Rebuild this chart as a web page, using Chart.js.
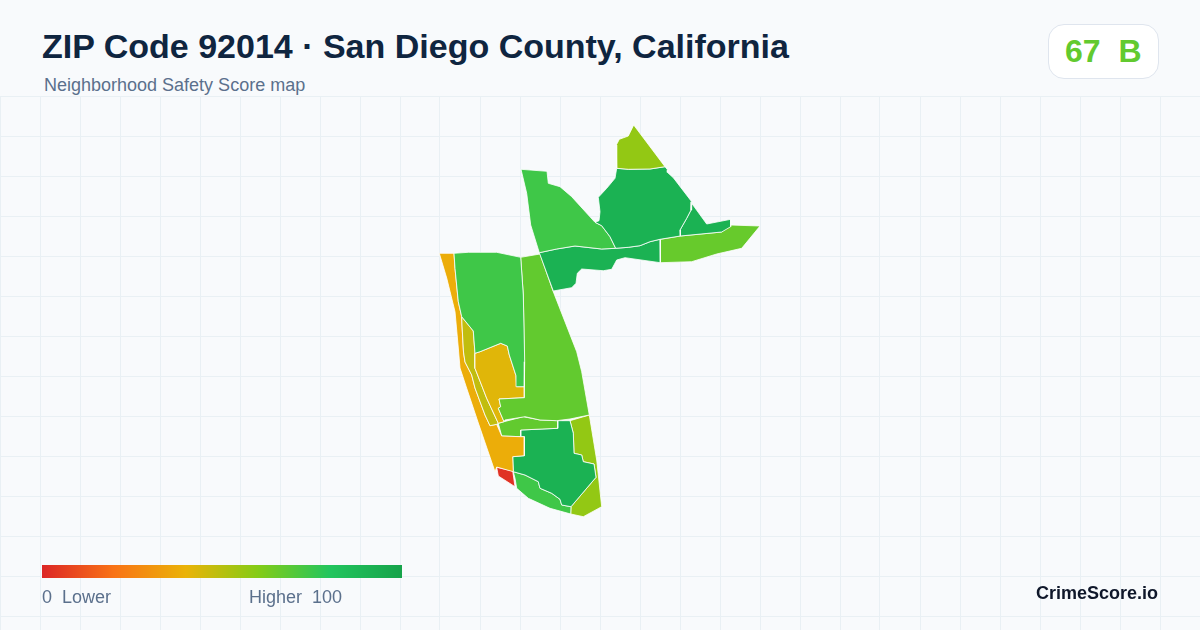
<!DOCTYPE html>
<html><head><meta charset="utf-8">
<script src="https://cdn.jsdelivr.net/npm/chart.js@4"></script>
<style>
html,body{margin:0;padding:0;width:1200px;height:630px;overflow:hidden;background:#f8fafc;font-family:"Liberation Sans",Arial,sans-serif}
.t{position:absolute;white-space:pre;line-height:1}
#wrap{position:absolute;left:0;top:96px;width:1200px;height:534px}
#badge{position:absolute;left:1048px;top:24px;width:109px;height:53px;background:#fff;border:1px solid #dfe5ee;border-radius:16px}
#bar{position:absolute;left:42px;top:565px;width:360px;height:13px}
</style></head><body>
<div id="wrap"><canvas id="c" width="1200" height="534"></canvas></div>
<div class="t" style="left:42px;top:29px;font-size:34px;font-weight:700;color:#0f2540">ZIP Code 92014 · San Diego County, California</div>
<div class="t" style="left:44px;top:76px;font-size:18px;color:#5b708c">Neighborhood Safety Score map</div>
<div id="badge"></div>
<div id="grade" class="t" style="left:1065px;top:35px;font-size:32px;font-weight:700"></div>
<div id="bar"></div>
<div class="t" style="left:42px;top:588px;font-size:18px;color:#5b708c">0  Lower</div>
<div class="t" style="left:249px;top:588px;font-size:18px;color:#5b708c">Higher  100</div>
<div class="t" style="left:1036px;top:584px;font-size:18px;font-weight:700;color:#0f172a">CrimeScore.io</div>
<script>
const overallScore = 67;
const overallGrade = "B";
const rampStops = [0, 20, 40, 60, 80, 100];
const rampColors = ["#dc2626", "#f97316", "#eab308", "#84cc16", "#22c55e", "#16a34a"];
const gridStep = 40;

const tractScores = [57, 91, 91, 74, 91, 66, 74, 67, 42, 48, 38, 67, 91, 74, 57, 3];
const tractA = [[633.7,125],[628.3,136],[619.3,139.3],[616.3,145],[616.7,168.3],[628.3,169.3],[650,169],[665,166.7]];
const tractB = [[665,166.7],[667.7,170],[667.3,172.3],[673.3,177.7],[691.7,201.7],[691,210],[686.7,218.3],[680,230],[680.3,236],[660,239.3],[650,241.7],[640,245.7],[628.3,247.3],[615.7,248.3],[610,236.7],[601.7,225.7],[595,222.3],[599,220.7],[600,211.7],[598.3,197.3],[606.7,188.3],[615,178.3],[616.7,168.3],[628.3,169.3],[650,169]];
const tractC = [[691.7,203.3],[706.7,224],[730.7,219.3],[730.7,226.7],[721.7,232],[680.3,236],[680,230],[686.7,218.3],[691,210]];
const tractD = [[521,169.3],[547,171.3],[548.3,183.3],[560,186.7],[571.7,196.7],[595,222.3],[601.7,225.7],[610,236.7],[615.7,248.3],[601.7,249],[575,246],[556.7,249],[539.3,252.7],[530.7,225],[526.7,193.3]];
const tractE = [[539.3,252.7],[556.7,249],[575,246],[601.7,249],[615.7,248.3],[628.3,247.3],[640,245.7],[650,241.7],[660,239.3],[660.3,262.7],[625,257.7],[616.7,260],[611.7,269.3],[603.3,270.7],[581.7,269],[577.3,273.3],[576,283.3],[571.7,287.7],[553.3,291]];
const tractF = [[660.3,239.3],[680.3,236],[721.7,232],[730.7,225],[760,226],[741.7,248.3],[716.7,254],[691.7,261.7],[660.3,262.7]];
const tractH = [[454,253.3],[468.3,252.3],[496.7,252.3],[520.7,257.3],[523.3,295],[524.7,361.7],[524.3,386.7],[516.7,386.7],[516,375.7],[509.3,355],[507.3,346],[500.7,343.3],[480,351.7],[475,353.3],[473.3,331],[461.7,316.7],[458.3,301.7],[455,268.3]];
const tractI = [[520.7,257.3],[540,254],[553.3,291.7],[576.7,351.7],[581.7,371.7],[589.3,415],[570,419],[556.7,420.7],[540,420],[525,416.7],[505,420],[504,421.7],[498.3,408.3],[500.7,406.7],[499,399],[524.3,397.7],[524.3,386.7],[524.7,361.7],[523.3,295]];
const tractP = [[475,353.3],[480,351.7],[500.7,343.3],[507.3,346],[509.3,355],[516,375.7],[516.7,386.7],[524.3,386.7],[524.3,397.7],[499,399],[500.7,406.7],[498.3,408.3],[504,421.7],[498.3,423.3],[486.7,398.3],[475,368.3]];
const tractQ = [[461.7,316.7],[473.3,331],[475,353.3],[475,368.3],[486.7,398.3],[498.3,423.3],[496.7,424.3],[490,425.7],[485,415],[475,388],[471.7,375],[465,362],[463.5,352],[462,325]];
const tractG = [[439.3,253.3],[454,253.3],[455,268.3],[458.3,301.7],[461.7,316.7],[462,325],[463.5,352],[465,362],[471.7,375],[475,388],[485,415],[490,425.7],[496.7,424.3],[501.7,436],[520.7,436.7],[524.3,436.7],[524.3,455.7],[512.7,456.7],[513.3,471.7],[496.7,467],[495,471.7],[478.3,423],[466.7,388.3],[460,368],[458.3,348],[455,311.7],[446.7,278]];
const tractJ = [[498.3,423.3],[504,421.7],[523.3,416.7],[540,420],[557.7,420.7],[557.7,428.3],[520.7,430],[520.7,436.7],[501.7,436]];
const tractK = [[520.7,430],[557.7,428.3],[557.7,420.7],[570,420.7],[573.3,433.3],[574,453.3],[581.7,455],[583.3,461.7],[594,464],[596,477.3],[571,506.7],[561.7,505],[560,499.3],[551.7,493.3],[540,488.3],[538.3,481.7],[525,475],[513.3,471.7],[512.7,456.7],[524.3,455.7],[524.3,436.7],[520.7,436.7]];
const tractL = [[513.3,471.7],[525,475],[538.3,481.7],[540,488.3],[551.7,493.3],[560,499.3],[561.7,505],[571,506.7],[570.7,514],[550,508.3],[528.3,498.3],[516.7,488.3],[515,478.3]];
const tractM = [[570,420.7],[589.3,415],[596.7,460],[601.7,506.7],[583.3,516.7],[570.7,514],[571,506.7],[596,477.3],[594,464],[583.3,461.7],[581.7,455],[574,453.3],[573.3,433.3]];
const tractN = [[496.7,467.3],[512.7,471],[515,486.7],[498.3,476]];
const tracts = [tractA,tractB,tractC,tractD,tractE,tractF,tractH,tractI,tractP,tractQ,tractG,tractJ,tractK,tractL,tractM,tractN];

function hex(c){return [1,3,5].map(i=>parseInt(c.slice(i,i+2),16));}
function scoreColor(s){
  let i=0; while(i<rampStops.length-2 && s>rampStops[i+1]) i++;
  const t=(s-rampStops[i])/(rampStops[i+1]-rampStops[i]);
  const a=hex(rampColors[i]), b=hex(rampColors[i+1]);
  return "rgb("+a.map((v,k)=>Math.round(v+(b[k]-v)*t)).join(",")+")";
}
document.getElementById("bar").style.background="linear-gradient(90deg,"+rampColors.map((c,i)=>c+" "+rampStops[i]+"%").join(",")+")";
const g=document.getElementById("grade");
g.textContent=overallScore+"  "+overallGrade; g.style.color=scoreColor(overallScore);

const gridColor="#e9f0f4";
new Chart(document.getElementById("c"),{
  type:"scatter",
  data:{datasets:tracts.map((p,i)=>({
    data:p.concat([p[0]]).map(q=>({x:q[0],y:q[1]})),
    showLine:true,tension:0,pointRadius:0,pointHoverRadius:0,
    fill:"shape",backgroundColor:scoreColor(tractScores[i]),
    borderColor:"#ffffff",borderWidth:0.8,borderJoinStyle:"round"
  }))},
  options:{
    responsive:false,animation:false,events:[],
    layout:{padding:0},
    plugins:{legend:{display:false},tooltip:{enabled:false},title:{display:false}},
    scales:{
      x:{type:"linear",min:0,max:1200,
        afterBuildTicks:s=>{const t=[];for(let v=0;v<1200;v+=gridStep)t.push({value:v});s.ticks=t;},
        ticks:{display:false},border:{display:false},grid:{color:gridColor,lineWidth:1,drawTicks:false}},
      y:{type:"linear",min:96,max:630,reverse:true,
        afterBuildTicks:s=>{const t=[];for(let v=96;v<630;v+=gridStep)t.push({value:v});s.ticks=t;},
        ticks:{display:false},border:{display:false},grid:{color:gridColor,lineWidth:1,drawTicks:false}}
    }
  }
});
</script>
</body></html>
